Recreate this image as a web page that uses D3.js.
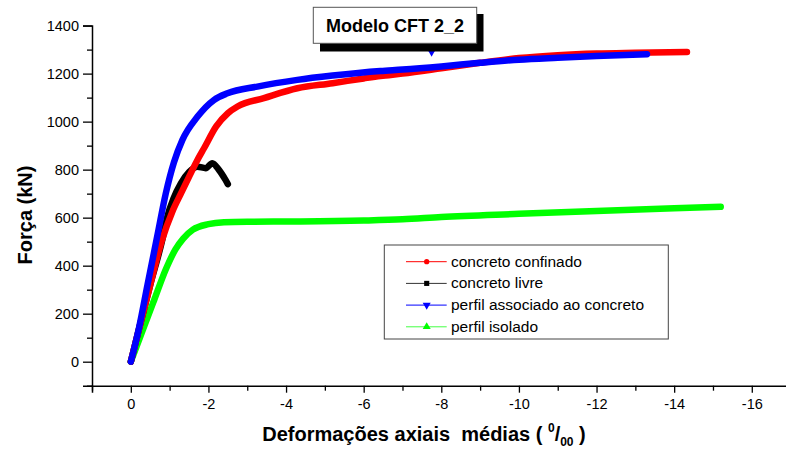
<!DOCTYPE html>
<html><head><meta charset="utf-8">
<script src="https://cdn.jsdelivr.net/npm/d3@7"></script>
<style>body{margin:0;background:#fff;}svg{display:block;font-family:"Liberation Sans",Arial,sans-serif;}</style>
</head><body>
<svg id="chart" width="786" height="451"></svg>
<script>
const xTicks = [0,-2,-4,-6,-8,-10,-12,-14,-16];
const yTicks = [0,200,400,600,800,1000,1200,1400];

const seriesNames = ["concreto confinado","concreto livre","perfil associado ao concreto","perfil isolado"];
const seriesColors = ["#ff0000","#000000","#0000ff","#00ff00"];
const legendColors = ["#ff0000","#333333","#0000ff","#44ff44"];
const seriesSymbols = ["circle","square","down","up"];

const redX = [0,-0.25,-0.5,-0.8,-1.07,-1.29,-1.5,-1.7,-1.89,-2.2,-2.5,-2.75,-3.43,-4.29,-5.2,-6.0,-6.43,-7,-8,-9,-10,-11,-12,-13,-14.33];
const redY = [0,160,320,505,625,700,770,835,890,980,1035,1063,1098,1139,1160,1180,1190,1200,1222,1245,1265,1277,1284,1287,1290];

const blackX = [0,-0.2,-0.5,-0.81,-0.94,-1.1,-1.29,-1.5,-1.72,-1.93,-2.1,-2.27,-2.44,-2.5];
const blackY = [0,130,320,507,604,680,743,790,812,806,827,799,757,740];

const blueX = [0,-0.21,-0.43,-0.69,-0.9,-1.11,-1.33,-1.72,-2.14,-2.49,-3.26,-4.29,-5.2,-6.43,-7,-8,-9,-10,-11,-12,-13.3];
const blueY = [0,140,320,530,700,830,924,1021,1090,1118,1146,1174,1192,1211,1217,1230,1245,1258,1266,1273,1281];
const blueStrayX = [-7.75];
const blueStrayY = [1287];

const greenX = [0,-0.3,-0.6,-0.9,-1.15,-1.35,-1.6,-2.0,-2.4,-3,-4.37,-6,-7,-8,-10,-12,-14,-15.2];
const greenY = [0,128,256,384,468,513,550,573,581,583,584,588,593,603,616,628,639,645];

const svg = d3.select("#chart");
const x = d3.scaleLinear().domain([1,-17]).range([92,790.6]);
const y = d3.scaleLinear().domain([-100,1400]).range([385.7,25.6]);

// axes
const xAxis = svg.append("g").attr("transform","translate(0,385.7)")
  .call(d3.axisBottom(x).tickValues(d3.range(1,-17.5,-1)).tickSize(7).tickFormat(d=> xTicks.includes(d)? String(d) : ""));
xAxis.select(".domain").attr("stroke","#000").attr("stroke-width",1.5);
xAxis.selectAll(".tick line").attr("stroke-width",1.3).attr("y2",d=> xTicks.includes(d)?7:5);
xAxis.selectAll(".tick text").attr("font-size","14.5px").attr("fill","#000").attr("dy","0.95em");

const yAxis = svg.append("g").attr("transform","translate(92,0)")
  .call(d3.axisLeft(y).tickValues(d3.range(-100,1401,100)).tickSize(9).tickFormat(d=> yTicks.includes(d)? d : ""));
yAxis.select(".domain").attr("stroke","#000").attr("stroke-width",1.5);
yAxis.selectAll(".tick line").attr("stroke-width",1.3).attr("x2",d=> yTicks.includes(d)?-9:-5);
yAxis.selectAll(".tick text").attr("font-size","14.5px").attr("fill","#000").attr("x",-13);

// curves
const series = [[redX,redY],[blackX,blackY],[blueX,blueY],[greenX,greenY]];
const line = d3.line().x(d=>x(d[0])).y(d=>y(d[1])).curve(d3.curveMonotoneX);
const order = [3,1,0,2];
order.forEach(i=>{
  const pts = series[i][0].map((v,k)=>[v,series[i][1][k]]);
  svg.append("path").attr("d",line(pts)).attr("fill","none")
    .attr("stroke",seriesColors[i]).attr("stroke-width",6.5)
    .attr("stroke-linecap","round").attr("stroke-linejoin","round");
});
blueStrayX.forEach((v,k)=>{
  svg.append("path").attr("d",d3.symbol().type(d3.symbolTriangle).size(20)())
    .attr("transform",`translate(${x(v)},${y(blueStrayY[k])}) rotate(180)`).attr("fill","#0000ff");
});

// title box
svg.append("rect").attr("x",320).attr("y",14).attr("width",163.5).attr("height",37.5).attr("fill","#000");
svg.append("rect").attr("x",313.3).attr("y",7.3).attr("width",163.4).attr("height",36).attr("fill","#fff").attr("stroke","#555").attr("stroke-width",1);
svg.append("text").attr("x",395).attr("y",32).attr("text-anchor","middle")
  .attr("font-size","18px").attr("font-weight","bold").text("Modelo CFT 2_2");

// axis titles
const xt = svg.append("text").attr("x",424).attr("y",441).attr("text-anchor","middle")
  .attr("font-size","20px").attr("font-weight","bold");
xt.append("tspan").text("Deformações axiais\u00a0\u00a0médias ( ");
xt.append("tspan").attr("font-size","12px").attr("dy","-9").text("0");
xt.append("tspan").attr("dy","9").text("/");
xt.append("tspan").attr("font-size","12px").attr("dy","5").text("00");
xt.append("tspan").attr("dy","-5").text(" )");

svg.append("text").attr("transform","translate(32,215) rotate(-90)").attr("text-anchor","middle")
  .attr("font-size","20px").attr("font-weight","bold").text("Força (kN)");

// legend
svg.append("rect").attr("x",384.3).attr("y",245).attr("width",284).attr("height",94)
  .attr("fill","#fff").attr("stroke","#444").attr("stroke-width",1);
seriesNames.forEach((name,i)=>{
  const yy = 261.7 + i*21.7;
  svg.append("line").attr("x1",406).attr("x2",446.7).attr("y1",yy).attr("y2",yy)
    .attr("stroke",legendColors[i]).attr("stroke-width",1);
  const sym = seriesSymbols[i];
  let st;
  if(sym==="circle") st = d3.symbol().type(d3.symbolCircle).size(22);
  else if(sym==="square") st = d3.symbol().type(d3.symbolSquare).size(26);
  else st = d3.symbol().type(d3.symbolTriangle).size(28);
  svg.append("path").attr("d",st())
    .attr("transform",`translate(426.7,${yy}) rotate(${sym==="down"?180:0})`)
    .attr("fill",seriesColors[i]);
  svg.append("text").attr("x",451).attr("y",yy+5).attr("font-size","15.5px").attr("fill","#000").text(name);
});
</script>
</body></html>
